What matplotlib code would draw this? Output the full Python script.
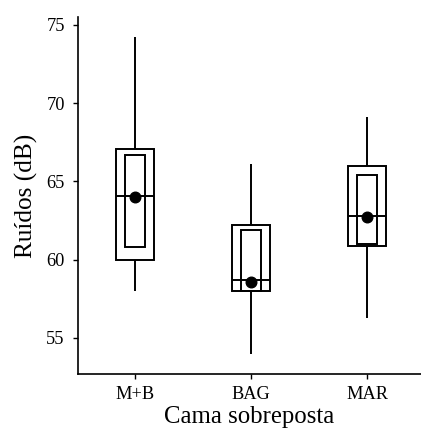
import matplotlib
matplotlib.use("Agg")
import matplotlib.pyplot as plt
import numpy as np

categories = ["M+B", "BAG", "MAR"]
whisker_low = [58.0, 54.0, 56.3]
q1 = [60.0, 58.0, 60.9]
median = [64.1, 58.7, 62.8]
q3 = [67.1, 62.2, 66.0]
whisker_high = [74.2, 66.1, 69.1]
inner_low = [60.8, 58.0, 61.0]
inner_high = [66.7, 61.9, 65.4]
mean = [64.0, 58.6, 62.75]
yticks = [55, 60, 65, 70, 75]

plt.rcParams['font.family'] = ['Liberation Serif', 'DejaVu Serif']

fig = plt.figure(figsize=(4.21, 4.34), dpi=100)
ax = fig.add_axes([78/421, 1-374/434, (421-78)/421, (374-17)/434])

x = np.arange(1, len(categories) + 1)
lw = 1.4
outer_w = 0.336
inner_w = 0.165

ax.vlines(x, q3, whisker_high, color='black', lw=lw)
ax.vlines(x, whisker_low, q1, color='black', lw=lw)
ax.bar(x, np.array(q3) - np.array(q1), bottom=q1, width=outer_w,
       fill=False, edgecolor='black', linewidth=lw)
ax.hlines(median, x - outer_w/2, x + outer_w/2, color='black', lw=lw)
ax.bar(x, np.array(inner_high) - np.array(inner_low), bottom=inner_low, width=inner_w,
       fill=False, edgecolor='black', linewidth=lw)
ax.scatter(x, mean, s=58, color='black', zorder=5)

ax.set_xlim(1 - 57/116, 3 + 54/116)
ax.set_ylim(52.7, 75.5)
ax.set_xticks(x)
ax.set_xticklabels(categories)
ax.set_yticks(yticks)
for s in ['top', 'right']:
    ax.spines[s].set_visible(False)
for s in ['left', 'bottom']:
    ax.spines[s].set_linewidth(1.2)
ax.tick_params(axis='both', length=3.5, width=1.0, labelsize=13.2, colors='black')
ax.tick_params(axis='y', pad=6)
ax.tick_params(axis='x', pad=5)
ax.set_xlabel("Cama sobreposta", fontsize=17.8, labelpad=2)
ax.set_ylabel("Ruídos (dB)", fontsize=18.2, labelpad=6)

fig.savefig("out.png", dpi=100)
